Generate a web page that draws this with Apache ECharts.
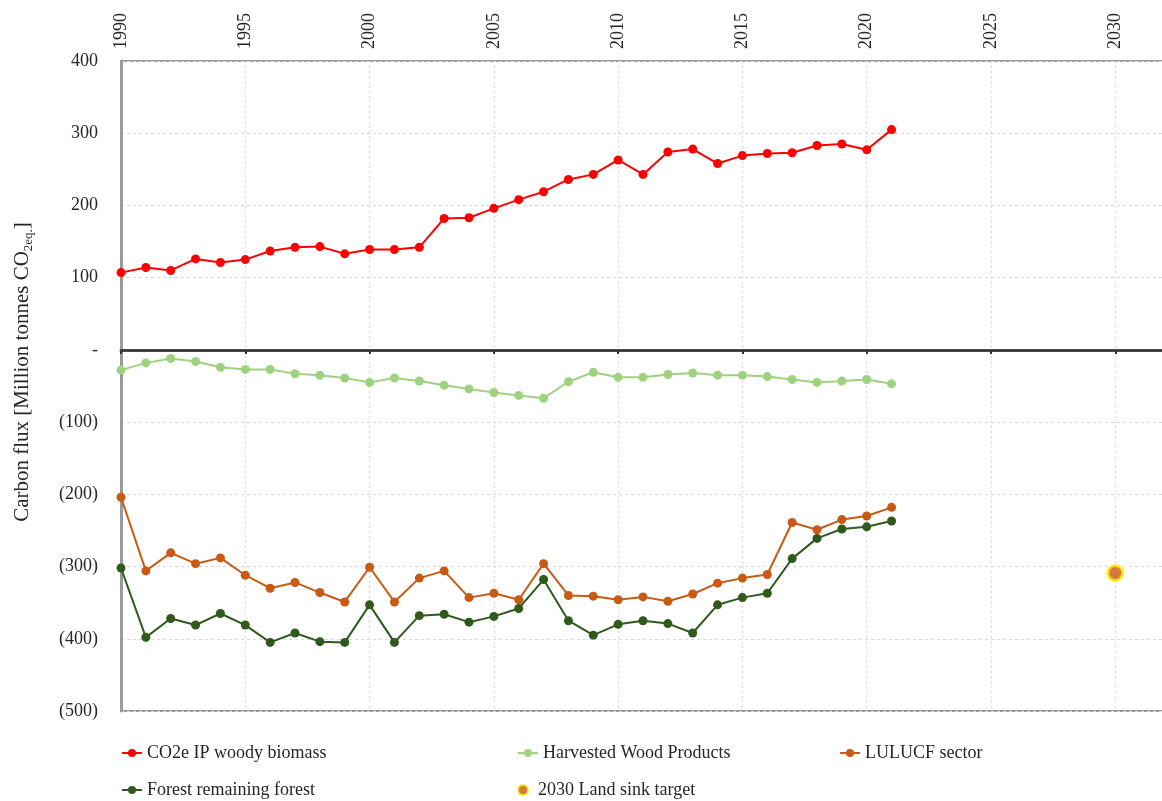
<!DOCTYPE html>
<html>
<head>
<meta charset="utf-8">
<script src="https://cdn.jsdelivr.net/npm/echarts@6/dist/echarts.min.js"></script>
<style>
  html, body { margin: 0; padding: 0; background: #fff; }
  #chart { width: 1162px; height: 801px; }
</style>
</head>
<body>
<div id="chart"></div>
<script>
// Inventory years
const years = [1990, 1991, 1992, 1993, 1994, 1995, 1996, 1997, 1998, 1999,
  2000, 2001, 2002, 2003, 2004, 2005, 2006, 2007, 2008, 2009,
  2010, 2011, 2012, 2013, 2014, 2015, 2016, 2017, 2018, 2019,
  2020, 2021];

// Carbon fluxes, million tonnes CO2eq (negative = sink)
const woodyBiomass = [107, 114, 110, 126, 121, 125, 137, 142, 143, 133,
  139, 139, 142, 182, 183, 196, 208, 219, 236, 243,
  263, 243, 274, 278, 258, 269, 272, 273, 283, 285,
  277, 305];
const harvestedWood = [-28, -18, -12, -16, -24, -27, -27, -33, -35, -39,
  -45, -39, -43, -49, -54, -59, -63, -67, -44, -31,
  -38, -38, -34, -32, -35, -35, -37, -41, -45, -43,
  -41, -47];
const lulucf = [-204, -306, -281, -296, -288, -312, -330, -322, -336, -349,
  -301, -349, -316, -306, -343, -337, -346, -296, -340, -341,
  -346, -342, -348, -338, -323, -316, -311, -239, -249, -235,
  -230, -218];
const forestRemaining = [-302, -398, -372, -381, -365, -381, -405, -392, -404, -405,
  -353, -405, -368, -366, -377, -369, -358, -318, -375, -395,
  -380, -375, -379, -392, -353, -343, -337, -289, -261, -248,
  -245, -237];
const targetYear = [2030];
const targetValue = [-309];

const yTicksMin = -500, yTicksMax = 400, yStep = 100;

const serif = '"Liberation Serif", "DejaVu Serif", serif';
const textColor = '#262626';

function pairs(xs, ys) { return xs.map((x, i) => [x, ys[i]]); }

function lineSeries(name, color, values) {
  return {
    name: name,
    type: 'line',
    xAxisIndex: 0,
    data: pairs(years, values),
    symbol: 'circle',
    symbolSize: 9,
    lineStyle: { color: color, width: 2 },
    itemStyle: { color: color },
    z: 5
  };
}

function legendAt(name, left, top) {
  return {
    data: [name],
    left: left,
    top: top,
    itemWidth: 20,
    itemHeight: 10,
    itemGap: 5,
    textStyle: { fontFamily: serif, fontSize: 18, color: textColor }
  };
}

const chart = echarts.init(document.getElementById('chart'));
chart.setOption({
  backgroundColor: '#fff',
  animation: false,
  grid: {
    left: 121, top: 61, width: 1044, bottom: 90,
    outerBoundsMode: 'none',
    show: true, borderColor: '#9a9a9a', borderWidth: 2
  },
  legend: [
    legendAt('CO2e IP woody biomass', 116, 739),
    legendAt('Harvested Wood Products', 512, 739),
    legendAt('LULUCF sector', 834, 739),
    legendAt('Forest remaining forest', 116, 776),
    legendAt('2030 Land sink target', 512, 776)
  ],
  xAxis: [
    {
      type: 'value', position: 'top',
      min: 1990, max: 2032, interval: 5,
      axisLine: { show: true, lineStyle: { color: '#9a9a9a', width: 3 } },
      axisTick: { show: false },
      axisLabel: {
        rotate: 90, margin: 12, showMaxLabel: false,
        fontFamily: serif, fontSize: 18, color: textColor,
        formatter: v => String(v)
      },
      splitLine: { show: true, lineStyle: { color: '#d9d9d9', type: [2, 3], width: 1 } }
    },
    {
      type: 'value', position: 'bottom',
      min: 1990, max: 2032, interval: 5,
      axisLine: { show: true, onZero: true, onZeroAxisIndex: 0,
        lineStyle: { color: '#333', width: 2.5 } },
      axisTick: { show: true, length: 4, lineStyle: { color: '#333', width: 2 } },
      axisLabel: { show: false },
      splitLine: { show: false }
    }
  ],
  yAxis: {
    type: 'value',
    min: yTicksMin, max: yTicksMax, interval: yStep,
    axisLine: { show: true, lineStyle: { color: '#9a9a9a', width: 3 } },
    axisTick: { show: false },
    axisLabel: {
      margin: 23, fontFamily: serif, fontSize: 18, color: textColor,
      formatter: v => v === 0 ? '-' : (v < 0 ? '(' + (-v) + ')' : String(v))
    },
    splitLine: { show: true, lineStyle: { color: '#d9d9d9', type: [3, 3], width: 1 } },
    name: '{a|Carbon flux [Million tonnes CO}{s|2eq.}{a|]}',
    nameLocation: 'middle',
    nameGap: 86,
    nameRotate: 90,
    nameTextStyle: {
      padding: [0, 0, 0, 28],
      rich: {
        a: { fontFamily: serif, fontSize: 21, color: textColor, lineHeight: 26 },
        s: { fontFamily: serif, fontSize: 13, color: textColor, verticalAlign: 'bottom', lineHeight: 16, padding: [7, 0, 0, 0] }
      }
    }
  },
  series: [
    lineSeries('CO2e IP woody biomass', '#ff0000', woodyBiomass),
    lineSeries('Harvested Wood Products', '#9fd27f', harvestedWood),
    lineSeries('LULUCF sector', '#c85a14', lulucf),
    lineSeries('Forest remaining forest', '#2f5a1c', forestRemaining),
    {
      name: '2030 Land sink target',
      type: 'scatter',
      xAxisIndex: 0,
      data: pairs(targetYear, targetValue),
      symbol: 'circle',
      symbolSize: 15,
      itemStyle: { color: '#c85a14', borderColor: '#ffee00', borderWidth: 3 },
      z: 6
    }
  ]
});
</script>
</body>
</html>
